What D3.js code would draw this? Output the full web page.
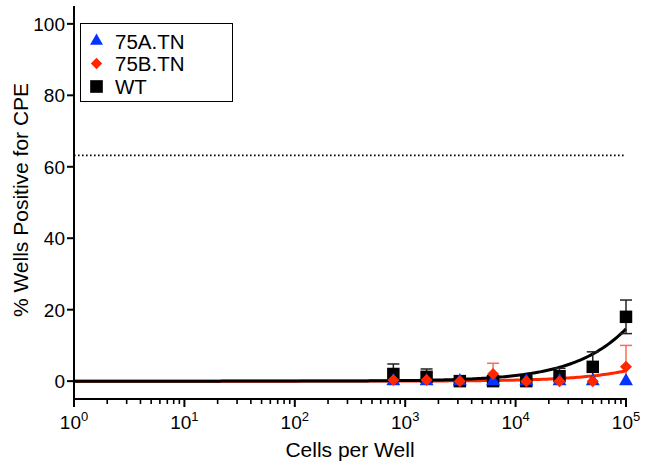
<!DOCTYPE html>
<html>
<head>
<meta charset="utf-8">
<script src="https://cdn.jsdelivr.net/npm/d3@7"></script>
<style>
  html, body { margin: 0; padding: 0; background: #fff; }
  svg { display: block; font-family: "Liberation Sans", Arial, sans-serif; }
</style>
</head>
<body>
<svg id="chart" width="647" height="464"></svg>
<script>
// Cells seeded per well (two-fold dilution series)
const cellsPerWell = [781, 1562, 3125, 6250, 12500, 25000, 50000, 100000];

// Mean % wells positive for CPE and SD for each virus
const wtMean = [2, 1.2, 0, 0, 0, 1.4, 4, 18];
const wtSd   = [2.8, 2.2, 0, 0, 0, 2.2, 4.2, 4.7];
const tn75bMean = [0.3, 0.3, 0, 2, 0, 0, 0, 4];
const tn75bSd   = [0, 0, 0, 3, 0, 0, 0, 6];
const tn75aMean = [0, 0, 0, 0, 0, 0, 0, 0];
const tn75aSd   = [0, 0, 0, 0, 0, 0, 0, 0];

// Single-hit (Poisson) fit: % = 100 * (1 - exp(-cells / k))
const wtFitK = 633000;
const tn75bFitK = 3400000;
const threshold = 63.2;   // 1 - 1/e

const xTickExps = [0, 1, 2, 3, 4, 5];
const yTicks = [0, 20, 40, 60, 80, 100];
const seriesNames = ["75A.TN", "75B.TN", "WT"];

const BLUE = "#0433ff", RED = "#ff2600", BLACK = "#000";

const svg = d3.select("#chart");
const x = d3.scaleLog().domain([1, 1e5]).range([74, 626]);
const y = d3.scaleLinear().domain([-5, 105]).range([399, 6]);

// Threshold line
svg.append("line")
  .attr("x1", x(1)).attr("x2", x(1e5))
  .attr("y1", y(threshold)).attr("y2", y(threshold))
  .attr("stroke", "#000").attr("stroke-width", 1.6)
  .attr("stroke-dasharray", "1.6,2.4");

// Fit curves
const fitX = d3.range(0, 5.0001, 0.02).map(e => Math.pow(10, e));
const fit = k => c => 100 * (1 - Math.exp(-c / k));
const lineGen = f => d3.line().x(d => x(d)).y(d => y(f(d)));
svg.append("path").attr("d", lineGen(fit(tn75bFitK))(fitX))
  .attr("fill", "none").attr("stroke", RED).attr("stroke-width", 3);
svg.append("path").attr("d", lineGen(fit(wtFitK))(fitX))
  .attr("fill", "none").attr("stroke", BLACK).attr("stroke-width", 3);

// Error bars
function errorBars(means, sds, color, width) {
  const g = svg.append("g").attr("stroke", color).attr("stroke-width", width).attr("fill", "none");
  cellsPerWell.forEach((c, i) => {
    if (sds[i] <= 0) return;
    const cx = x(c);
    const hi = means[i] + sds[i];
    const lo = Math.max(0, means[i] - sds[i]);
    g.append("line").attr("x1", cx).attr("x2", cx).attr("y1", y(lo)).attr("y2", y(hi));
    g.append("line").attr("x1", cx - 6).attr("x2", cx + 6).attr("y1", y(hi)).attr("y2", y(hi));
    if (means[i] - sds[i] > 0)
      g.append("line").attr("x1", cx - 6).attr("x2", cx + 6).attr("y1", y(lo)).attr("y2", y(lo));
  });
}
errorBars(wtMean, wtSd, "#222", 1.5);
errorBars(tn75bMean, tn75bSd, "#ff6a55", 1.5);

// Markers
const square = d3.symbol().type(d3.symbolSquare).size(156);
const triangle = d3.symbol().type(d3.symbolTriangle).size(84);
const diamond = d3.symbol().type(d3.symbolSquare).size(72);

function markers(means, sym, color, rotate) {
  svg.append("g").selectAll("path").data(cellsPerWell).join("path")
    .attr("d", sym)
    .attr("fill", color)
    .attr("transform", (c, i) => `translate(${x(c)},${y(means[i])})${rotate ? " rotate(45)" : ""}`);
}
markers(wtMean, square, BLACK, false);
markers(tn75aMean, triangle, BLUE, false);
markers(tn75bMean, diamond, RED, true);

// Y axis
const yAxis = svg.append("g").attr("transform", `translate(${x(1)},0)`);
yAxis.append("line").attr("x1", 0).attr("x2", 0).attr("y1", y(-5)).attr("y2", y(105))
  .attr("stroke", "#000").attr("stroke-width", 2);
yTicks.forEach(t => {
  yAxis.append("line").attr("x1", -7).attr("x2", 0).attr("y1", y(t)).attr("y2", y(t))
    .attr("stroke", "#000").attr("stroke-width", 2);
  yAxis.append("text").attr("x", -9).attr("y", y(t)).attr("dy", "0.36em")
    .attr("text-anchor", "end").attr("font-size", 19).text(t);
});

// X axis
const xAxis = svg.append("g").attr("transform", `translate(0,${y(-5)})`);
xAxis.append("line").attr("x1", x(1) - 1).attr("x2", x(1e5) + 1).attr("y1", 0).attr("y2", 0)
  .attr("stroke", "#000").attr("stroke-width", 2);
xTickExps.forEach(e => {
  const base = Math.pow(10, e);
  xAxis.append("line").attr("x1", x(base)).attr("x2", x(base)).attr("y1", 0).attr("y2", 8)
    .attr("stroke", "#000").attr("stroke-width", 2);
  if (e < 5) {
    for (let m = 2; m <= 9; m++) {
      xAxis.append("line").attr("x1", x(base * m)).attr("x2", x(base * m)).attr("y1", 0).attr("y2", 5)
        .attr("stroke", "#000").attr("stroke-width", 1.6);
    }
  }
  const t = xAxis.append("text").attr("x", x(base)).attr("y", 30)
    .attr("text-anchor", "middle").attr("font-size", 19);
  t.append("tspan").text("10");
  t.append("tspan").attr("font-size", 13).attr("dy", -8).text(e);
});

// Axis titles
svg.append("text").attr("x", 350).attr("y", 457).attr("text-anchor", "middle")
  .attr("font-size", 21).text("Cells per Well");
svg.append("text").attr("transform", "translate(28,200) rotate(-90)")
  .attr("text-anchor", "middle").attr("font-size", 21).text("% Wells Positive for CPE");

// Legend
const legend = svg.append("g");
legend.append("rect").attr("x", 80.5).attr("y", 23.5).attr("width", 152).attr("height", 78)
  .attr("fill", "#fff").attr("stroke", "#000").attr("stroke-width", 1);
const legendSyms = [
  { sym: d3.symbol().type(d3.symbolTriangle).size(72), color: BLUE, rot: false },
  { sym: d3.symbol().type(d3.symbolSquare).size(64), color: RED, rot: true },
  { sym: d3.symbol().type(d3.symbolSquare).size(160), color: BLACK, rot: false }
];
const legendY = [41, 63.5, 86.5];
seriesNames.forEach((name, i) => {
  legend.append("path").attr("d", legendSyms[i].sym).attr("fill", legendSyms[i].color)
    .attr("transform", `translate(96.5,${legendY[i]})${legendSyms[i].rot ? " rotate(45)" : ""}`);
  legend.append("text").attr("x", 115).attr("y", legendY[i] + 7.5)
    .attr("font-size", 20.5).text(name);
});
</script>
</body>
</html>
